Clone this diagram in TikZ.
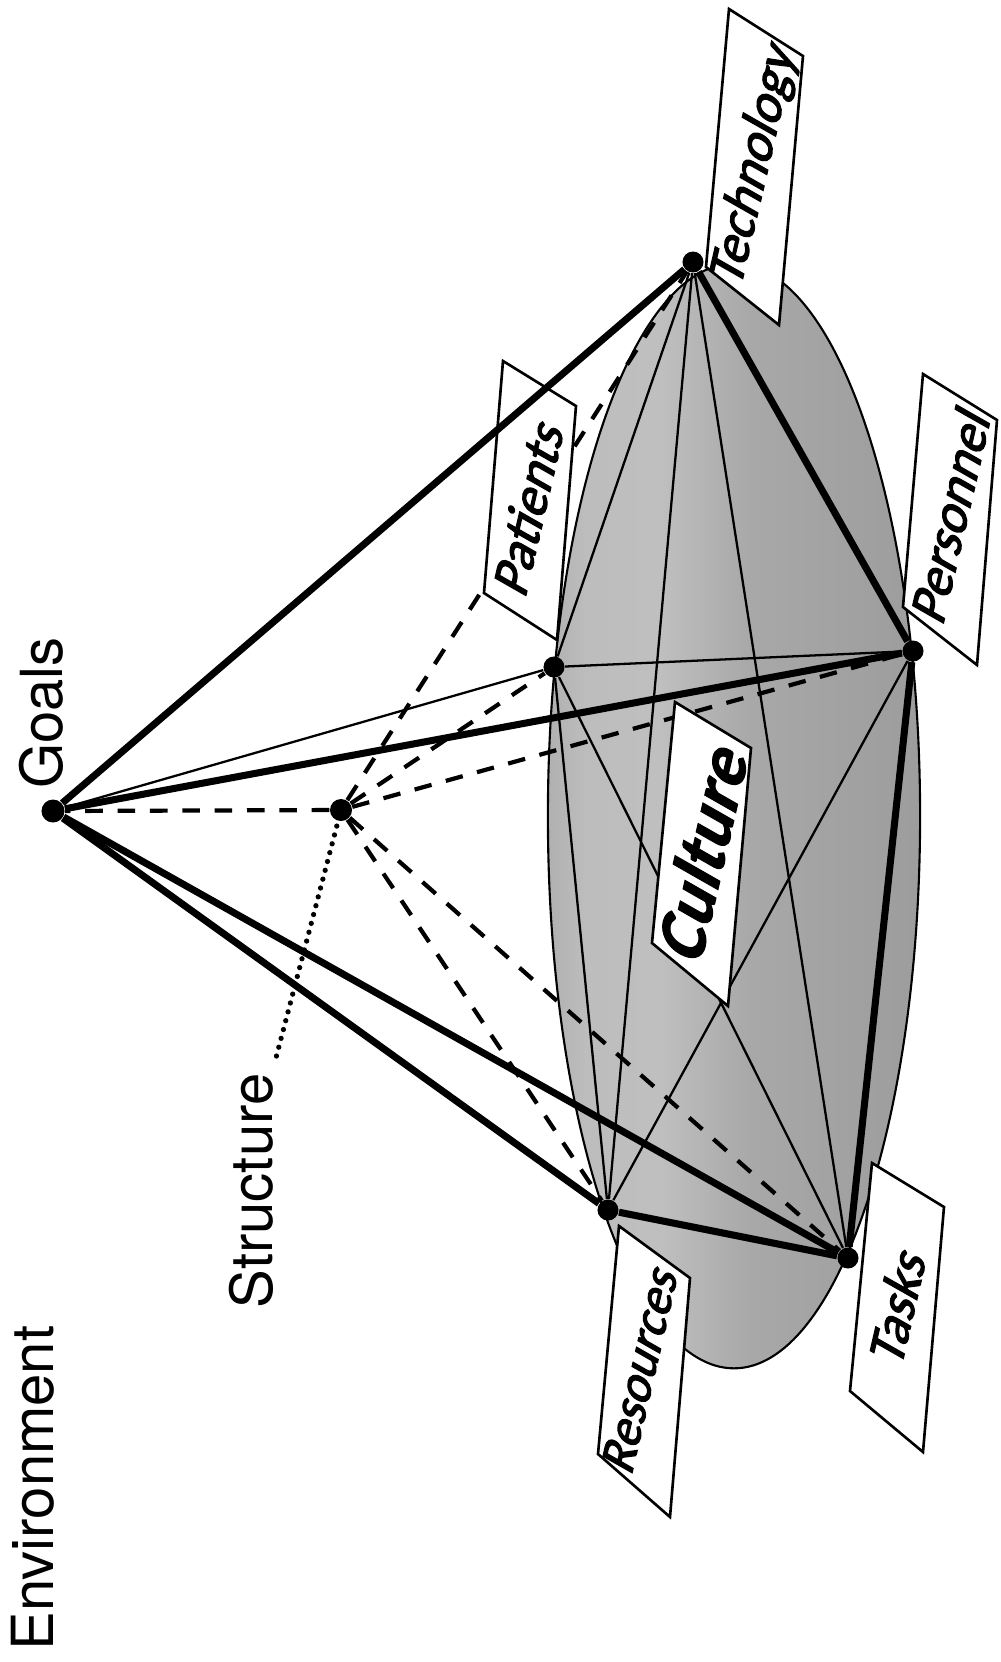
\documentclass[tikz,border=0pt]{standalone}
\usepackage{fontspec}
\setmainfont{TeX Gyre Heros}
\newfontfamily\boxfont[FakeBold=2.5]{Carlito}
\newfontfamily\culturefont[FakeBold=1.5]{Carlito}
\usetikzlibrary{calc}
\pgfdeclarehorizontalshading{cultureshade}{100bp}{color(0bp)=(black!46); color(14bp)=(black!42); color(30bp)=(black!26); color(40bp)=(black!25); color(52bp)=(black!34); color(72bp)=(black!38); color(100bp)=(black!42)}
\tikzset{
  dot/.style={circle, fill=black, inner sep=0pt, minimum size=0.21cm},
  thickline/.style={line width=2pt},
  thinline/.style={line width=0.65pt},
  dashline/.style={line width=1.2pt, dash pattern=on 5pt off 4.2pt},
  dotline/.style={line width=1.5pt, line cap=round, dash pattern=on 0pt off 2.6pt},
  labelbox/.style={draw=black, fill=white, line width=0.75pt, line join=miter},
  boxtext/.style={font=\boxfont\fontsize{15}{16}\selectfont, rotate=77, xslant=0.3, inner sep=0pt},
  culturetext/.style={font=\culturefont\bfseries\fontsize{20}{22}\selectfont, rotate=77, xslant=0.3, inner sep=0pt},
  plaintext/.style={font=\fontsize{16.5}{18}\selectfont, rotate=90, inner sep=0pt, anchor=base},
}
\begin{document}
\begin{tikzpicture}[x=0.01cm, y=-0.01cm]
\useasboundingbox[fill=white] (0,0) rectangle (1001,1662);

% culture ellipse
\draw[shading=cultureshade, line width=0.6pt] (734,816) ellipse [x radius=1.86cm, y radius=5.52cm];

% element dots
\node[dot, minimum size=0.23cm] (G) at (53,811) {};
\node[dot, minimum size=0.22cm] (S) at (341,810) {};
\node[dot] (P) at (554,667) {};
\node[dot] (T) at (693,262) {};
\node[dot] (Pe) at (913,651) {};
\node[dot] (R) at (608,1210) {};
\node[dot] (Ta) at (848,1258) {};

% thin connections
\draw[thinline] (G) -- (P);
\draw[thinline] (T) -- (P);
\draw[thinline] (T) -- (R);
\draw[thinline] (T) -- (Ta);
\draw[thinline] (P) -- (Pe);
\draw[thinline] (P) -- (R);
\draw[thinline] (P) -- (Ta);
\draw[thinline] (Pe) -- (R);

% structure (dashed)
\draw[dashline] (S) -- (G);
\draw[dashline] (S) -- (T);
\draw[dashline] (S) -- (P);
\draw[dashline] (S) -- (Pe);
\draw[dashline] (S) -- (R);
\draw[dashline] (S) -- (Ta);

% labels with boxes
\draw[labelbox] (729,9) -- (803,56) -- (779,325) -- (706,267) -- cycle;
\node[boxtext] (ttech) at (755,164) {Technology};
\draw[labelbox] (503,361) -- (576,406) -- (557,640) -- (484,593) -- cycle;
\node[boxtext] (tpat) at (528,506) {Patients};
\draw[labelbox] (923,374) -- (997,420) -- (977,665) -- (903,607) -- cycle;
\node[boxtext] (tpers) at (950,514) {Personnel};
\draw[labelbox] (619,1226) -- (690,1278) -- (670,1517) -- (598,1454) -- cycle;
\node[boxtext, font=\boxfont\fontsize{14.2}{16}\selectfont] (tres) at (640,1368) {Resources};
\draw[labelbox] (872,1163) -- (944,1207) -- (923,1452) -- (850,1391) -- cycle;
\node[boxtext] (ttask) at (897,1305) {Tasks};
\draw[labelbox] (675,702) -- (751,748) -- (728,1006) -- (652,943) -- cycle;
\node[culturetext] (tcult) at (702,850) {Culture};

% thick connections
\draw[thickline] (G) -- (T);
\draw[thickline] (G) -- (Pe);
\draw[thickline] (G) -- (R);
\draw[thickline] (G) -- (Ta);
\draw[thickline] (T) -- (Pe);
\draw[thickline] (Pe) -- (Ta);
\draw[thickline] (R) -- (Ta);

% plain labels
\node[plaintext] (tgoals) at (62,713) {Goals};
\node[plaintext] (tstruct) at (272,1191) {Structure};
\node[plaintext] (tenv) at (54,1488) {Environment};
\draw[dotline] ($(tstruct.base east)!5pt!(S)$) -- (S);
\end{tikzpicture}
\end{document}
